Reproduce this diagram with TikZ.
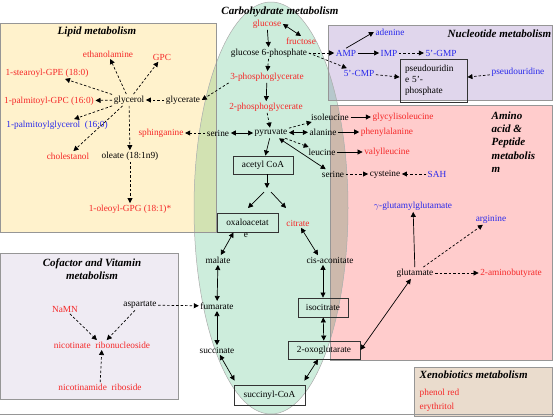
\documentclass[tikz,border=0pt]{standalone}
\usepackage{fontspec}
\setmainfont{Liberation Serif}
\usetikzlibrary{arrows.meta}
\definecolor{cred}{RGB}{245,40,40}
\definecolor{cblue}{RGB}{40,40,235}
\definecolor{cyel}{RGB}{255,242,204}
\definecolor{cpur}{RGB}{224,214,236}
\definecolor{cpink}{RGB}{255,204,204}
\definecolor{ccof}{RGB}{239,235,243}
\definecolor{cxen}{RGB}{234,220,205}
\definecolor{cgrn}{RGB}{205,237,220}
\definecolor{cyelg}{RGB}{210,226,178}
\definecolor{cpurg}{RGB}{182,200,204}
\definecolor{cpinkg}{RGB}{205,185,172}
\definecolor{cedge}{RGB}{150,150,150}
\begin{document}
\begin{tikzpicture}[x=1pt,y=-1pt,
 every node/.style={font=\fontsize{9.3}{11}\selectfont,inner sep=1.5pt},
 txr/.style={text=cred}, txb/.style={text=cblue},
 ttl/.style={font=\fontsize{11}{13}\selectfont\bfseries\itshape},
 bx/.style={draw=black!80,line width=0.9pt},
 sa/.style={-{Triangle[length=5pt,width=5pt]},line width=0.7pt},
 da/.style={sa,dash pattern=on 2.5pt off 2pt},
 ba/.style={{Triangle[length=5pt,width=5pt]}-{Triangle[length=5pt,width=5pt]},line width=0.7pt},
 region/.style={draw=cedge,line width=0.6pt}
]
\useasboundingbox (0,0) rectangle (554,416);
% regions
\fill[cyel] (0.5,23) rectangle (216,232);
\fill[cpur] (328,25) rectangle (552,100);
\fill[cpink] (330,105) rectangle (552,360);
\fill[ccof] (0.5,253) rectangle (178,399);
\fill[cxen] (414,367) rectangle (552,416);
\fill[cgrn] (271,208) ellipse [x radius=77, y radius=206];
\begin{scope}
\clip (271,208) ellipse [x radius=77, y radius=206];
\fill[cyelg] (0.5,23) rectangle (216,232);
\fill[cpurg] (328,25) rectangle (552,100);
\fill[cpinkg] (330,105) rectangle (552,360);
\end{scope}
\draw[draw=cedge!80,line width=0.5pt] (271,208) ellipse [x radius=77, y radius=206];
\draw[region] (0.5,23) rectangle (216,232);
\draw[region] (328,25) rectangle (552,100);
\draw[region] (330,105) rectangle (552,360);
\draw[region] (0.5,253) rectangle (178,399);
\draw[region] (414,367) rectangle (552,416);
\draw[cedge,line width=1pt] (0,414.5) -- (554,414.5);

% titles
\node[ttl] (tlip) at (97,32) {Lipid metabolism};
\node[ttl] (tcarb) at (280,12) {Carbohydrate metabolism};
\node[ttl,anchor=west] (tnuc) at (446,34) {Nucleotide metabolism};
\node[ttl,anchor=north west,align=left,font=\fontsize{11}{13.3}\selectfont\bfseries\itshape] (tami) at (490,110) {Amino\\acid \&\\Peptide\\metabolis\\m};
\node[ttl,align=center,font=\fontsize{11}{12.5}\selectfont\bfseries\itshape] (tcof) at (92,269) {Cofactor and Vitamin\\metabolism};
\node[ttl,anchor=west] (txen) at (418,375) {Xenobiotics metabolism};

% lipid
\node[txr] (ethan) at (108,54) {ethanolamine};
\node[txr] (gpc) at (162,57) {GPC};
\node[txr] (stear) at (47,73) {1-stearoyl-GPE (18:0)};
\node[txr] (palmgpc) at (49,101) {1-palmitoyl-GPC (16:0)};
\node (glycerol) at (129,100) {glycerol};
\node (glycerate) at (183,100) {glycerate};
\node[txb] (palmgly) at (57,125) {1-palmitoylglycerol\ \ (16:0)};
\node[txr] (sphing) at (161,133) {sphinganine};
\node[txr] (cholest) at (68,156) {cholestanol};
\node (oleate) at (130,156) {oleate (18:1n9)};
\node[txr] (oleoyl) at (130,209) {1-oleoyl-GPG (18:1)*};

% carbohydrate
\node[txr] (glucose) at (267,24) {glucose};
\node[txr] (fructose) at (301,41) {fructose};
\node (g6p) at (269,53) {glucose 6-phosphate};
\node[txr] (pg3) at (267,77) {3-phosphoglycerate};
\node[txr] (pg2) at (266,107) {2-phosphoglycerate};
\node (serl) at (218,133) {serine};
\node (pyr) at (271,133) {pyruvate};
\node[bx,minimum width=60pt,minimum height=18pt] (acoa) at (263,165) {acetyl CoA};
\coordinate (split) at (267,188);
\coordinate (s1) at (264,192);
\coordinate (s2) at (271,192);
\coordinate (t1) at (248,208);
\coordinate (t2) at (286,208);
\node[bx,minimum width=61pt,minimum height=19pt] (oxalo) at (247.5,222.5) {oxaloacetat};
\node (oxe) at (246,235) {e};
\node[txr] (citrate) at (298,223) {citrate};
\node (malate) at (218,260) {malate};
\node (cisacon) at (330,260) {cis-aconitate};
\node (fumarate) at (217,306) {fumarate};
\node (succinate) at (217,350) {succinate};
\node[bx,minimum width=50pt,minimum height=19pt] (isocit) at (323,307.5) {isocitrate};
\node[bx,minimum width=72pt,minimum height=18pt] (oxoglut) at (324,350) {2-oxoglutarate};
\node[bx,minimum width=71pt,minimum height=20pt] (succoa) at (269.5,395) {succinyl-CoA};

% nucleotide
\node[txb] (adenine) at (390,32) {adenine};
\node[txb] (amp) at (346,53) {AMP};
\node[txb] (imp) at (389,53) {IMP};
\node[txb] (gmp) at (441,53) {5'-GMP};
\node[txb] (cmp) at (359,73) {5'-CMP};
\node[bx,minimum width=67pt,minimum height=43pt,text width=57pt,align=left,inner xsep=5pt,font=\fontsize{9.3}{11}\selectfont] (pseudo) at (433.5,80.5) {pseudouridin\\e 5'-\\phosphate};
\node[txb] (pseudouri) at (518,72) {pseudouridine};

% amino acid
\node (ile) at (330,117) {isoleucine};
\node[txr] (glyile) at (403,117) {glycylisoleucine};
\node (ala) at (323,132) {alanine};
\node[txr] (phe) at (387,132) {phenylalanine};
\node (leu) at (322,152) {leucine};
\node[txr] (valleu) at (387,152) {valylleucine};
\node (serr) at (333,174) {serine};
\node (cys) at (385,174) {cysteine};
\node[txb] (sah) at (437,174) {SAH};
\node[txb] (gglu) at (413,206) {$\gamma$-glutamylglutamate};
\node[txb] (arg) at (491,219) {arginine};
\node (glu) at (415,273) {glutamate};
\node[txr] (abut) at (511,273) {2-aminobutyrate};

% cofactor
\node[txr] (namn) at (65,309) {NaMN};
\node (asp) at (140,305) {aspartate};
\node[txr] (nicrib) at (102,345) {nicotinate\ \ ribonucleoside};
\node[txr] (nicamrib) at (100,387) {nicotinamide\ \ riboside};

% xenobiotics
\node[txr,anchor=west] (phenol) at (418,393) {phenol red};
\node[txr,anchor=west] (eryth) at (418,407) {erythritol};

% lipid arrows
\draw[da] (glycerol) -- (ethan);
\draw[da] (glycerol) -- (gpc);
\draw[da] (glycerol) -- (stear);
\draw[da] (glycerol) -- (palmgpc);
\draw[da] (glycerol) -- (palmgly);
\draw[da] (glycerol) -- (cholest);
\draw[da] (glycerol) -- (oleate);
\draw[da] (glycerate) -- (glycerol);
\draw[da] (oleate) -- (oleoyl);
\draw[da] (pg3.south west) -- (glycerate.east);
\draw[da] (serl) -- (sphing);

% carbohydrate arrows
\draw[sa] (glucose) -- (g6p);
\draw[ba] (glucose.east) -- (fructose.north);
\draw[da] (g6p) -- (pg3);
\draw[sa] (pg3) -- (pg2);
\draw[da] (pg2) -- (pyr);
\draw[ba] (serl) -- (pyr);
\draw[sa] (pyr) -- (acoa);
\draw[sa] (acoa.south -| split) -- (split);
\draw[sa] (s1) -- (t1);
\draw[sa] (s2) -- (t2);
\draw[ba] ([xshift=-14pt]oxalo.south) -- (malate);
\draw[ba] (citrate) -- ([xshift=-12pt]cisacon.north);
\draw[ba] (malate) -- (fumarate);
\draw[ba] (fumarate) -- (succinate);
\draw[ba] (cisacon.south -| isocit) -- (isocit);
\draw[ba] (isocit) -- (oxoglut);
\draw[ba] (succinate) -- ([shift={(1pt,4pt)}]succoa.north west);
\draw[ba] ([xshift=-6pt]oxoglut.south) -- ([shift={(-1pt,4pt)}]succoa.north east);
\draw[da] (asp) -- (fumarate);
\draw[da] (g6p) -- (amp);
\draw[da] (g6p.east) -- (cmp);

% nucleotide arrows
\draw[sa] (amp.north) -- (adenine.west);
\draw[sa] (amp) -- (imp);
\draw[da] (imp) -- (gmp);
\draw[da] (cmp) -- (pseudo);
\draw[da] (pseudouri) -- (pseudo);

% amino arrows
\draw[da] (pyr) -- (ile);
\draw[ba] (pyr) -- (ala);
\draw[da] (pyr) -- (leu);
\draw[ba] (pyr) -- (serr);
\draw[sa] (ile) -- (glyile);
\draw[sa] (ala) -- (phe);
\draw[sa] (leu) -- (valleu);
\draw[da] (serr) -- (cys);
\draw[da] (sah) -- (cys);
\draw[sa] (glu) -- (gglu);
\draw[da] (glu) -- (arg);
\draw[da] (glu) -- (abut);
\draw[ba] (oxoglut.east) -- (glu);

% cofactor arrows
\draw[da] (namn) -- (nicrib);
\draw[da] (asp) -- (nicrib);
\draw[da] (nicamrib) -- (nicrib);
\end{tikzpicture}
\end{document}
